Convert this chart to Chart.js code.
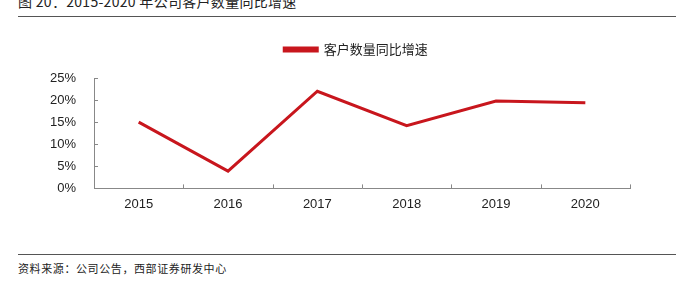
<!DOCTYPE html>
<html lang="zh">
<head>
<meta charset="UTF-8">
<title>客户数量同比增速</title>
<style>
  html, body { margin: 0; padding: 0; background: #fff; }
  body { width: 679px; height: 284px; position: relative; overflow: hidden; }
  .title { position: absolute; left: 18px; top: -9px; font: 14px "Noto Sans CJK SC", sans-serif; color: #222; white-space: nowrap; letter-spacing: 0.3px; }
  .rule { position: absolute; left: 18px; right: 3px; height: 1px; background: #555; }
  .source { position: absolute; left: 18px; top: 260px; font: 11px "Noto Sans CJK SC", sans-serif; color: #222; letter-spacing: 0.6px; }
  #box { position: absolute; left: 0; top: 33px; width: 679px; height: 179px; }
</style>
</head>
<body>
<div class="title">图 20：2015-2020 年公司客户数量同比增速</div>
<div class="rule" style="top:16px"></div>
<div id="box"><canvas id="myChart"></canvas></div>
<div class="rule" style="top:254px"></div>
<div class="source">资料来源：公司公告，西部证券研发中心</div>

<script src="https://cdn.jsdelivr.net/npm/chart.js@4.4.0/dist/chart.umd.min.js"></script>
<script>
var years = ['2015', '2016', '2017', '2018', '2019', '2020'];
var growth = [15.0, 3.9, 22.0, 14.2, 19.8, 19.4];
var yTicks = [0, 5, 10, 15, 20, 25];

// inward tick marks on both axes
var innerTicks = {
    id: 'innerTicks',
    afterDraw: function (chart) {
        var c = chart.ctx, x = chart.scales.x, y = chart.scales.y;
        c.save();
        c.strokeStyle = '#888';
        c.lineWidth = 1;
        c.beginPath();
        yTicks.forEach(function (v) {
            var py = Math.round(y.getPixelForValue(v)) + 0.5;
            c.moveTo(x.left, py);
            c.lineTo(x.left + 4, py);
        });
        for (var i = 0; i <= years.length; i++) {
            var px = Math.round(x.left + (x.right - x.left) * i / years.length) + 0.5;
            c.moveTo(px, y.bottom);
            c.lineTo(px, y.bottom - 4);
        }
        c.stroke();
        c.restore();
    }
};

// extra room under the legend, and legend centred over the plot
var legendGap = {
    id: 'legendGap',
    beforeInit: function (chart) {
        var fit = chart.legend.fit;
        chart.legend.fit = function () {
            fit.bind(chart.legend)();
            this.height += 12;
        };
    },
    afterLayout: function (chart) {
        chart.legend.left += 42;
    }
};

var myChart = new Chart(document.getElementById('myChart'), {
    type: 'line',
    data: {
        labels: years,
        datasets: [{
            label: '客户数量同比增速',
            data: growth,
            borderColor: '#c8161d',
            backgroundColor: '#c8161d',
            borderWidth: 3,
            pointRadius: 0,
            tension: 0
        }]
    },
    options: {
        responsive: true,
        maintainAspectRatio: false,
        animation: false,
        layout: { padding: { left: 40, right: 49, top: 0, bottom: 0 } },
        plugins: {
            tooltip: { enabled: false },
            legend: {
                labels: {
                    boxWidth: 33,
                    boxHeight: 3,
                    padding: 10,
                    color: '#222',
                    font: { family: '"Noto Sans CJK SC", sans-serif', size: 13 }
                }
            }
        },
        scales: {
            x: {
                offset: true,
                grid: { display: false },
                border: { color: '#888' },
                ticks: { color: '#222', padding: 0, font: { family: 'Liberation Sans, Arial', size: 13 } }
            },
            y: {
                min: 0,
                max: 25,
                grid: { display: false },
                border: { color: '#888' },
                afterBuildTicks: function (axis) {
                    axis.ticks = yTicks.map(function (v) { return { value: v }; });
                },
                ticks: {
                    color: '#222',
                    padding: 10,
                    font: { family: 'Liberation Sans, Arial', size: 13 },
                    callback: function (v) { return v + '%'; }
                }
            }
        }
    },
    plugins: [innerTicks, legendGap]
});
</script>
</body>
</html>
